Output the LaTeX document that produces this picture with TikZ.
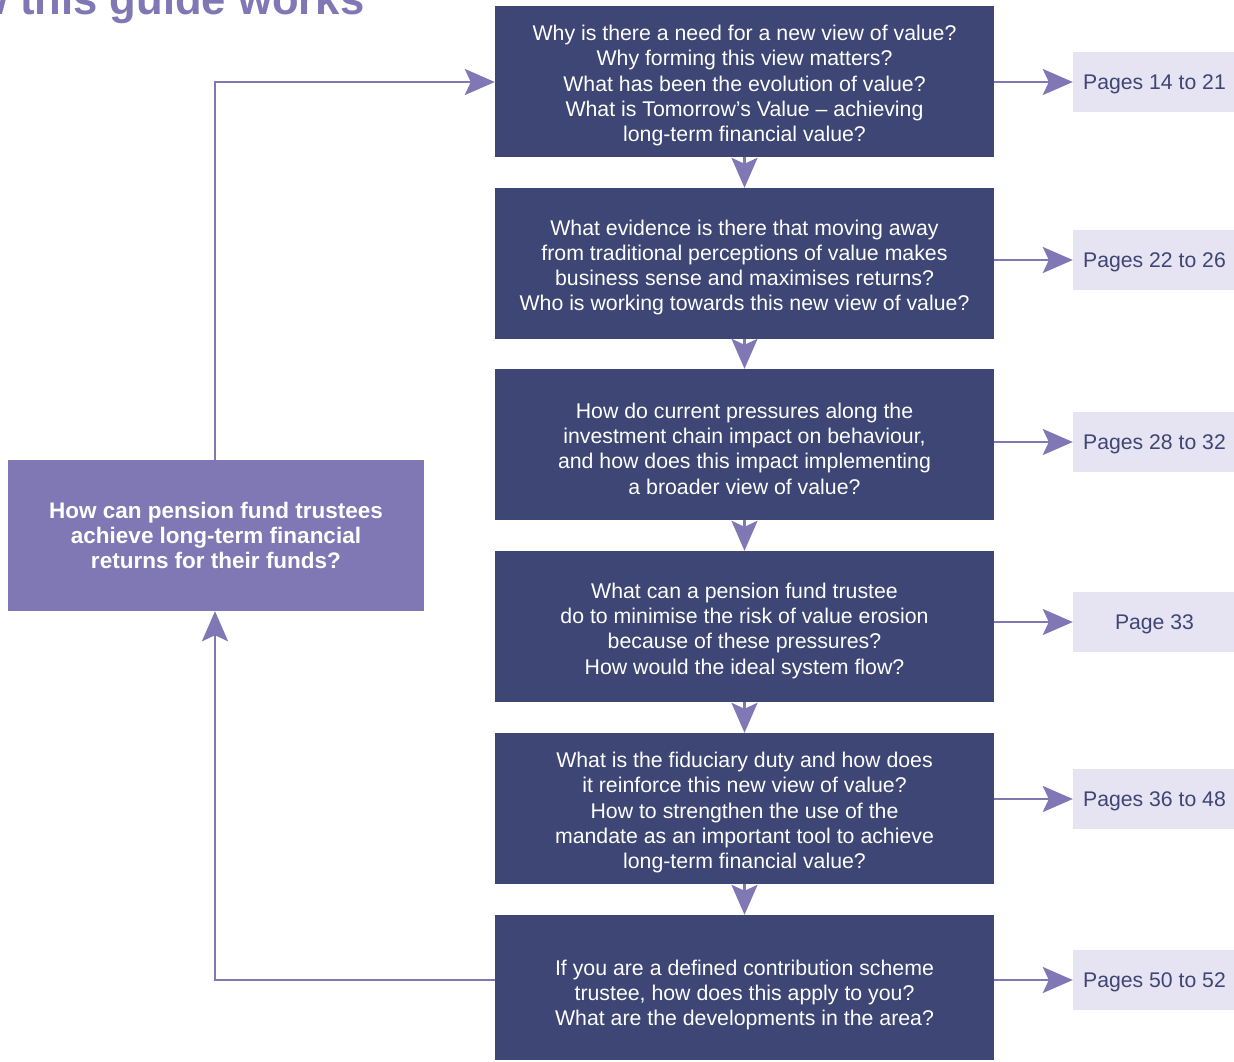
\documentclass[tikz,border=0pt]{standalone}
\usepackage{fontspec}
\setmainfont{Liberation Sans}
\usetikzlibrary{arrows.meta}
\definecolor{navy}{RGB}{61,70,116}
\definecolor{lav}{RGB}{128,119,181}
\definecolor{pale}{RGB}{230,228,242}
\newcommand{\fstrut}{\rule{0pt}{23.5pt}}
\begin{document}
\begin{tikzpicture}[x=1pt,y=-1pt,
  qbox/.style={fill=navy, text=white, minimum width=499pt, minimum height=151pt, align=center, inner sep=0pt, font=\fontsize{21.3}{25.3}\selectfont},
  pbox/.style={fill=pale, text=navy, minimum width=161pt, minimum height=60pt, inner sep=0pt, font=\fontsize{21.2}{25}\selectfont, execute at begin node={\rule{0pt}{19.5pt}\hspace*{2pt}}},
  mbox/.style={fill=lav, text=white, minimum width=416pt, minimum height=151pt, align=center, inner sep=0pt, font=\bfseries\fontsize{22.5}{25}\selectfont},
  arr/.style={draw=lav, line width=2.6pt, -{Stealth[length=30pt,width=26pt,inset=6pt]}}]
\useasboundingbox (0,0) rectangle (1234,1061);
\clip (0,0) rectangle (1234,1059.5);
\node[anchor=base west, inner sep=0pt, text=lav, font=\bfseries\fontsize{43.6}{43.6}\selectfont] (title) at (-84,14) {How this guide works};
\node[qbox] (q1) at (744.5,81.5) {\fstrut Why is there a need for a new view of value?\\Why forming this view matters?\\What has been the evolution of value?\\What is Tomorrow’s Value – achieving\\long-term financial value?};
\node[qbox] (q2) at (744.5,263.5) {\fstrut What evidence is there that moving away\\from traditional perceptions of value makes\\business sense and maximises returns?\\Who is working towards this new view of value?};
\node[qbox] (q3) at (744.5,444.5) {\fstrut How do current pressures along the\\investment chain impact on behaviour,\\and how does this impact implementing\\a broader view of value?};
\node[qbox] (q4) at (744.5,626.5) {\fstrut What can a pension fund trustee\\do to minimise the risk of value erosion\\because of these pressures?\\How would the ideal system flow?};
\node[qbox] (q5) at (744.5,808.5) {\fstrut What is the fiduciary duty and how does\\it reinforce this new view of value?\\How to strengthen the use of the\\mandate as an important tool to achieve\\long-term financial value?};
\node[qbox, minimum height=152pt] (q6) at (744.5,991) {\fstrut If you are a defined contribution scheme\\trustee, how does this apply to you?\\What are the developments in the area?};
\node[pbox] (p1) at (1153.5,82) {Pages 14 to 21};
\node[pbox] (p2) at (1153.5,260) {Pages 22 to 26};
\node[pbox] (p3) at (1153.5,442) {Pages 28 to 32};
\node[pbox] (p4) at (1153.5,622) {Page 33};
\node[pbox] (p5) at (1153.5,799) {Pages 36 to 48};
\node[pbox] (p6) at (1153.5,980) {Pages 50 to 52};
\node[mbox] (m) at (216,535.5) {How can pension fund trustees\\achieve long-term financial\\returns for their funds?};
\foreach \i in {1,...,6} \draw[arr] (q\i.east |- p\i) -- (p\i.west);
\draw[arr] (q1.south) -- (q2.north);
\draw[arr] (q2.south) -- (q3.north);
\draw[arr] (q3.south) -- (q4.north);
\draw[arr] (q4.south) -- (q5.north);
\draw[arr] (q5.south) -- (q6.north);
\draw[arr] ([xshift=-1pt]m.north) |- (q1.west |- p1);
\draw[arr] (q6.west |- p6) -| ([xshift=-1pt]m.south);
\end{tikzpicture}
\end{document}
